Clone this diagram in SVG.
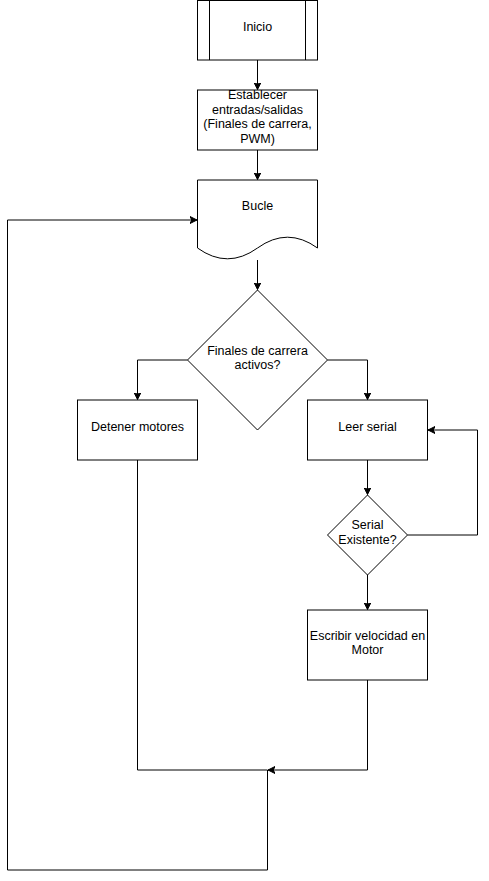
<svg xmlns="http://www.w3.org/2000/svg" width="489" height="881" viewBox="0 0 489 881">
<defs>
<style>
.n{fill:#ffffff;stroke:#000000;stroke-width:1}
.e{fill:none;stroke:#000000;stroke-width:1}
.t{font-family:"Liberation Sans",Arial,Helvetica,sans-serif;font-size:12.5px;fill:#000000;text-anchor:middle}
</style>
<marker id="arr" markerWidth="8" markerHeight="8" refX="7" refY="3.5" orient="auto" markerUnits="userSpaceOnUse" viewBox="0 0 8 7">
<path d="M0,0 L7,3.5 L0,7 L1.75,3.5 Z" fill="#000000" stroke="#000000" stroke-width="1"/>
</marker>
</defs>
<rect width="489" height="881" fill="#ffffff"/>
<g id="connectors">
<path class="e" d="M257.5,60 V89.5" marker-end="url(#arr)"/>
<path class="e" d="M257.5,150 V179.5" marker-end="url(#arr)"/>
<path class="e" d="M257.5,260 V289.5" marker-end="url(#arr)"/>
<path class="e" d="M187.5,360 H137.5 V399.5" marker-end="url(#arr)"/>
<path class="e" d="M327.5,360 H367.5 V399.5" marker-end="url(#arr)"/>
<path class="e" d="M367.5,460 V494.5" marker-end="url(#arr)"/>
<path class="e" d="M407.5,535 H477.5 V430 H428" marker-end="url(#arr)"/>
<path class="e" d="M367.5,575 V609.5" marker-end="url(#arr)"/>
<path class="e" d="M367.5,680 V770 H268" marker-end="url(#arr)"/>
<path class="e" d="M137.5,460 V770 H267.5"/>
<path class="e" d="M267.5,770 V870 H7.5 V220 H197" marker-end="url(#arr)"/>
</g>
<g id="inicio">
<rect class="n" x="197.5" y="0.5" width="120" height="59.5"/>
<path class="e" d="M209.5,0.5 V60 M305.5,0.5 V60"/>
<text class="t" x="257.5" y="31">Inicio</text>
</g>
<g id="establecer">
<rect class="n" x="197.5" y="90" width="120" height="60"/>
<text class="t" x="257.5" y="99">Establecer</text>
<text class="t" x="257.5" y="113.5">entradas/salidas</text>
<text class="t" x="257.5" y="128">(Finales de carrera,</text>
<text class="t" x="257.5" y="142.5">PWM)</text>
</g>
<g id="bucle">
<path class="n" d="M197.5,180 H317.5 V248 Q287.5,226.4 257.5,248 Q227.5,269.6 197.5,248 Z"/>
<text class="t" x="257.5" y="209.5">Bucle</text>
</g>
<g id="finales">
<path class="n" d="M257.5,290 L327.5,360 L257.5,430 L187.5,360 Z"/>
<text class="t" x="257.5" y="354.5">Finales de carrera</text>
<text class="t" x="257.5" y="369">activos?</text>
</g>
<g id="detener">
<rect class="n" x="77.5" y="400" width="120" height="60"/>
<text class="t" x="137.5" y="431">Detener motores</text>
</g>
<g id="leer">
<rect class="n" x="307.5" y="400" width="120" height="60"/>
<text class="t" x="367.5" y="431">Leer serial</text>
</g>
<g id="serial">
<path class="n" d="M367.5,495 L407.5,535 L367.5,575 L327.5,535 Z"/>
<text class="t" x="367.5" y="528.5">Serial</text>
<text class="t" x="367.5" y="544">Existente?</text>
</g>
<g id="escribir">
<rect class="n" x="307.5" y="610" width="120" height="70"/>
<text class="t" x="367.5" y="639.5">Escribir velocidad en</text>
<text class="t" x="367.5" y="654">Motor</text>
</g>
</svg>
